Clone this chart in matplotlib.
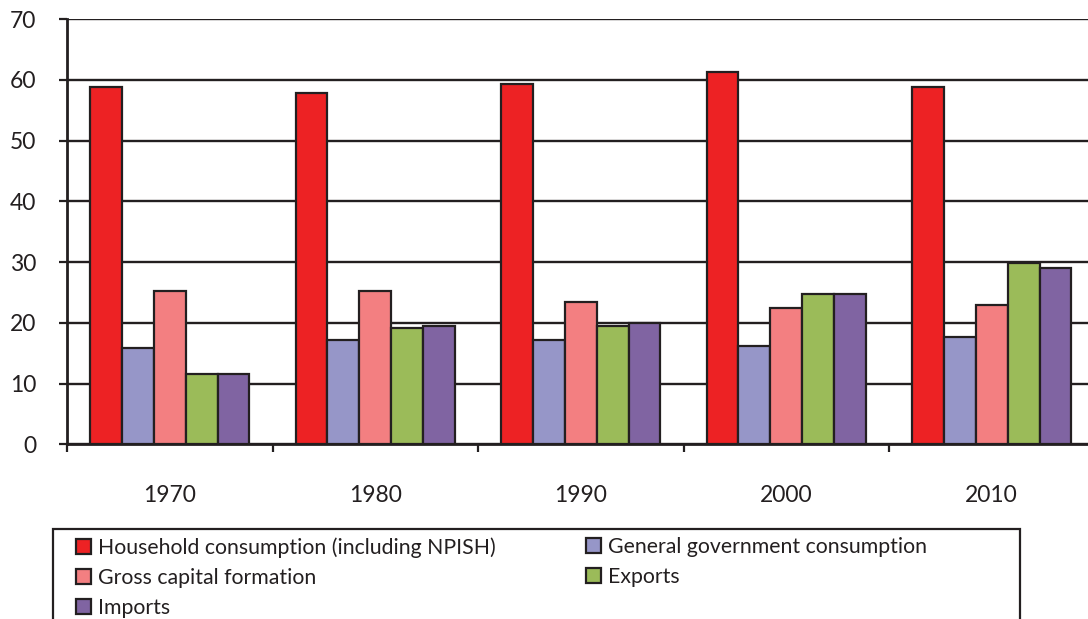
import matplotlib
matplotlib.use("Agg")
import matplotlib.pyplot as plt
from matplotlib.patches import Patch, Rectangle
import numpy as np

years = ["1970", "1980", "1990", "2000", "2010"]
series_names = [
    "Household consumption (including NPISH)",
    "General government consumption",
    "Gross capital formation",
    "Exports",
    "Imports",
]
household = [58.8, 57.9, 59.3, 61.2, 58.8]
government = [15.8, 17.2, 17.2, 16.2, 17.6]
capital = [25.2, 25.2, 23.4, 22.4, 22.9]
exports = [11.5, 19.1, 19.5, 24.7, 29.8]
imports = [11.5, 19.5, 20.0, 24.7, 29.0]
yticks = [0, 10, 20, 30, 40, 50, 60, 70]

colors = ["#ED2224", "#9696C8", "#F37F81", "#9BBB59", "#8064A2"]
INK = "#231F20"
FONT = "Lato"
FS_TICK = 16.5
FS_LEG = 15.3

W, H = 1088, 619
fig = plt.figure(figsize=(W / 100, H / 100), dpi=100)
plt.rcParams["font.family"] = [FONT, "DejaVu Sans"]

def px(x0, y0, x1, y1):
    return [x0 / W, 1 - y1 / H, (x1 - x0) / W, (y1 - y0) / H]

ax = fig.add_axes(px(67, 19, 1094.5, 444.3))
ax.set_xlim(-0.5, 4.5)
ax.set_ylim(0, 70)

data = [household, government, capital, exports, imports]
bw = 0.155
x = np.arange(len(years))
for j, (vals, c) in enumerate(zip(data, colors)):
    ax.bar(x + (j - 2) * bw, vals, width=bw, color=c, edgecolor=INK,
           linewidth=1.6, zorder=3)

ax.set_yticks(yticks)
ax.yaxis.grid(True, color=INK, linewidth=1.7, zorder=0)
ax.set_axisbelow(True)
for s in ["top", "right"]:
    ax.spines[s].set_visible(False)
for s in ["left", "bottom"]:
    ax.spines[s].set_color(INK)
    ax.spines[s].set_linewidth(2.0)
    ax.spines[s].set_zorder(4)

ax.set_xticks(x)
ax.set_xticklabels(years)
ax.set_xticks(np.arange(-0.5, 5.0, 1.0), minor=True)
ax.tick_params(axis="x", which="major", length=0, pad=29, labelsize=FS_TICK,
               labelcolor=INK)
ax.tick_params(axis="x", which="minor", length=6, width=1.6, color=INK,
               direction="out")
ax.tick_params(axis="y", length=6, width=1.6, color=INK, pad=16,
               labelsize=FS_TICK, labelcolor=INK)

handles = [Patch(facecolor=c, edgecolor=INK, linewidth=1.6) for c in colors]

common = dict(frameon=False, fontsize=FS_LEG, borderpad=0, borderaxespad=0,
              handlelength=0.72, handleheight=0.72, handletextpad=0.3,
              labelspacing=0.47, bbox_transform=fig.transFigure,
              loc="upper left", labelcolor=INK)
leg1 = fig.legend([handles[0], handles[2], handles[4]],
                  [series_names[0], series_names[2], series_names[4]],
                  bbox_to_anchor=(76 / W, 1 - 537 / H), **common)
leg2 = fig.legend([handles[1], handles[3]],
                  [series_names[1], series_names[3]],
                  bbox_to_anchor=(586 / W, 1 - 537 / H), **common)

frame = Rectangle((53 / W, 1 - 660 / H), (1020 - 53) / W, (660 - 529) / H,
                  transform=fig.transFigure, fill=False, edgecolor=INK,
                  linewidth=1.6)
fig.add_artist(frame)

fig.savefig("out.png", dpi=100)
